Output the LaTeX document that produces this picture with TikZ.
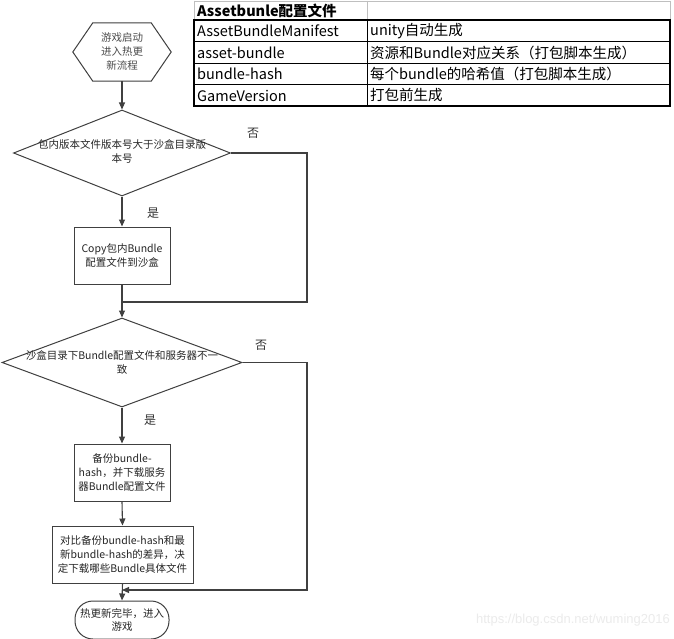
\documentclass[tikz,border=0pt]{standalone}
\usepackage{fontspec}
\setmainfont{Noto Sans CJK SC}
\newfontfamily\wmfont{Liberation Sans}
\usetikzlibrary{arrows.meta,shapes.geometric}
\begin{document}
\begin{tikzpicture}[x=1pt,y=-1pt,
 line/.style={draw=black!75, line width=1.1pt},
 arr/.style={line, -{Triangle[length=7pt,width=6pt]}},
 flowtext/.style={font=\fontsize{10.5}{14}\selectfont, text=black!85, align=center, inner sep=0pt},
 procbox/.style={draw=black!75, line width=1pt, minimum height=57pt, inner sep=0pt, font=\fontsize{10.5}{14}\selectfont, text=black!85, align=center},
 dia/.style={draw=black!75, line width=1pt, diamond, inner sep=0pt},
 tbl/.style={font=\fontsize{14.5}{16}\selectfont, anchor=west, inner sep=0pt, text=black},
 yesno/.style={font=\fontsize{12}{14}\selectfont, text=black!80, inner sep=0pt}
]
\useasboundingbox[fill=white] (0,0) rectangle (674,639);

% ---- table ----
\draw[black!25, line width=0.6pt] (194,1) -- (670,1) (367,1) -- (367,20) (670,1) -- (670,20) (194,1) -- (194,20);
\draw[black, line width=0.8pt] (194,41.5) -- (670,41.5) (194,63) -- (670,63) (194,84.5) -- (670,84.5) (367,20) -- (367,106);
\draw[black, line width=1.3pt] (194,20) rectangle (670,106);
\node[tbl] (h1) at (197,11) {\bfseries Assetbunle配置文件};
\node[tbl] (a1) at (197,31) {AssetBundleManifest};
\node[tbl] (b1) at (370,31) {unity自动生成};
\node[tbl] (a2) at (197,52.5) {asset-bundle};
\node[tbl] (b2) at (370,52.5) {资源和Bundle对应关系（打包脚本生成）};
\node[tbl] (a3) at (197,74) {bundle-hash};
\node[tbl] (b3) at (370,74) {每个bundle的哈希值（打包脚本生成）};
\node[tbl] (a4) at (197,95.5) {GameVersion};
\node[tbl] (b4) at (370,95.5) {打包前生成};

% ---- flowchart ----
\node[minimum width=98pt, minimum height=58pt, inner sep=0pt] (start) at (122,52) {};
\draw[draw=black!75, line width=1pt] (start.west) -- ([xshift=20pt]start.north west) -- ([xshift=-20pt]start.north east) -- (start.east) -- ([xshift=-20pt]start.south east) -- ([xshift=20pt]start.south west) -- cycle;
\node[flowtext, text=black!70] (starttext) at (122,51) {游戏启动\\进入热更\\新流程};

\node[dia, minimum width=217pt, minimum height=86pt] (d1) at (122,153) {};
\node[flowtext] (d1text) at (122,151) {包内版本文件版本号大于沙盒目录版\\本号};

\node[procbox, minimum width=96pt] (copy) at (122,255.5) {Copy包内Bundle\\配置文件到沙盒};

\node[dia, minimum width=240pt, minimum height=89pt] (d2) at (122,362.5) {};
\node[flowtext] (d2text) at (122,362.5) {沙盒目录下Bundle配置文件和服务器不一\\致};

\node[procbox, minimum width=96pt] (bak) at (122,472.5) {备份bundle-\\hash，并下载服务\\器Bundle配置文件};

\node[procbox, minimum width=141pt] (cmp) at (122.5,554.5) {对比备份bundle-hash和最\\新bundle-hash的差异，决\\定下载哪些Bundle具体文件};

\node[draw=black!75, line width=1pt, rounded corners=18pt, minimum width=94pt, minimum height=38pt, inner sep=0pt, font=\fontsize{10.5}{13}\selectfont, text=black!85, align=center] (term) at (122,620) {热更新完毕，进入\\游戏};

\coordinate (r1) at (307,153);
\coordinate (r1b) at (307,302);
\coordinate (j1) at (122,302);
\coordinate (r2) at (307,362.5);
\coordinate (r2b) at (307,590);
\coordinate (j2) at (122,590);

\draw[arr] (start.south) -- (d1.north);
\draw[arr] (d1.south) -- (copy.north);
\draw[line] (d1.east) -- (r1) -- (r1b) -- (j1);
\draw[arr] (copy.south) -- (d2.north);
\draw[arr] (d2.south) -- (bak.north);
\draw[arr] (d2.east) -- (r2) -- (r2b) -- (j2);
\draw[arr] (bak.south) -- (cmp.north);
\draw[arr] (cmp.south) -- (term.north);

\node[yesno] (no1) at (253,133) {否};
\node[yesno] (yes1) at (153,213) {是};
\node[yesno] (no2) at (261,345) {否};
\node[yesno] (yes2) at (150,420) {是};

\node[font=\wmfont\fontsize{13}{15}\selectfont, text=black!8, anchor=east, inner sep=0pt] (wm) at (670,620) {https://blog.csdn.net/wuming2016};
\end{tikzpicture}
\end{document}
